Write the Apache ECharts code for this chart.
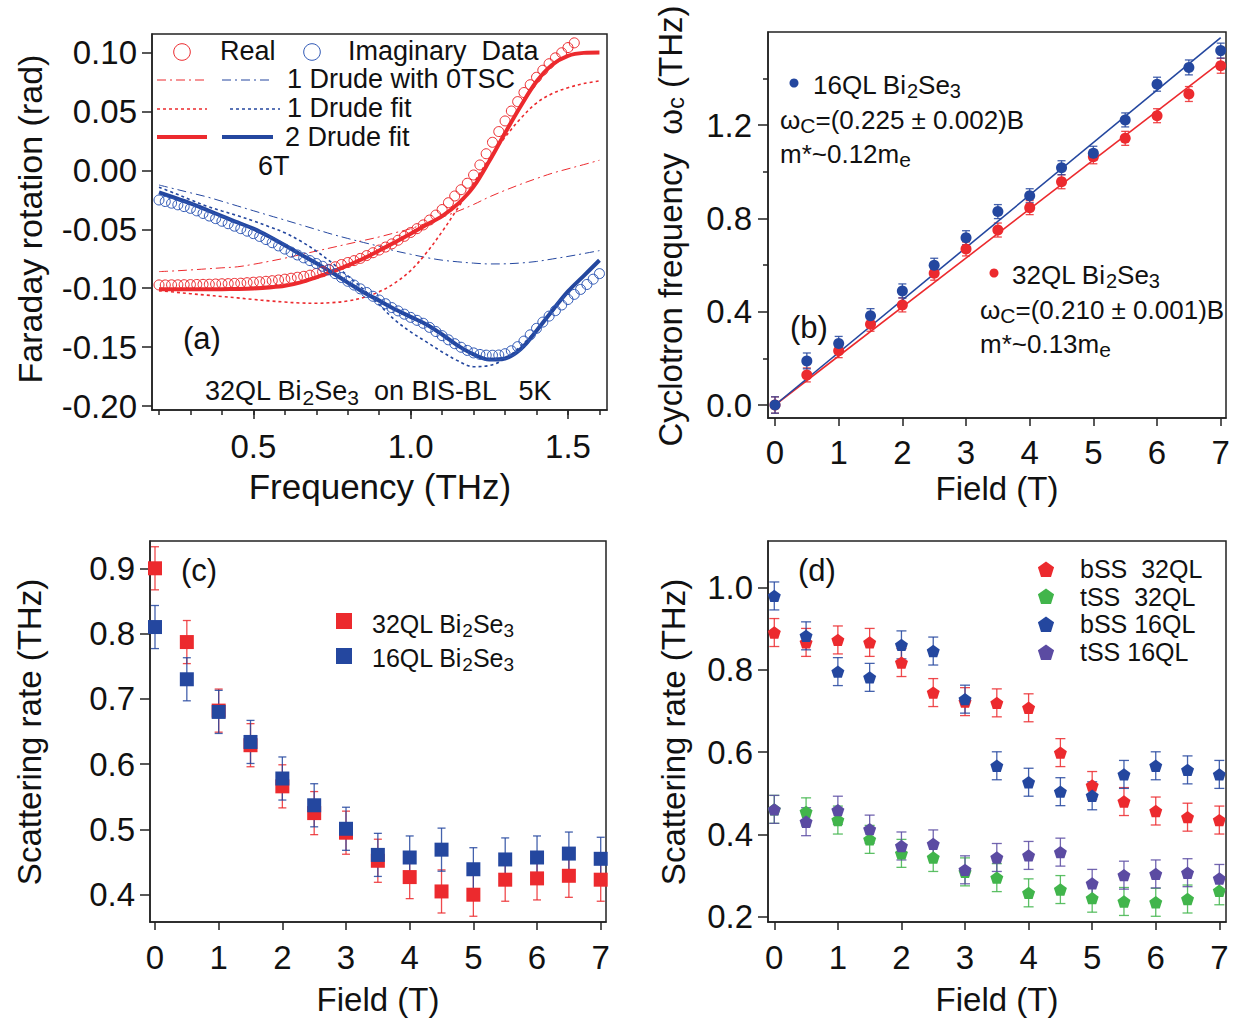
<!DOCTYPE html>
<html><head><meta charset="utf-8">
<script src="https://cdn.jsdelivr.net/npm/echarts/dist/echarts.min.js"></script>
<style>html,body{margin:0;padding:0;background:#fff}#c{width:1236px;height:1019px}</style>
</head><body><div id="c"></div>
<script>
// ---------- Panel (a): Faraday rotation vs frequency ----------
const freq = [0.20,0.22,0.24,0.26,0.28,0.30,0.32,0.34,0.36,0.38,0.40,0.42,0.44,0.46,0.48,0.50,0.52,0.54,0.56,0.58,
  0.60,0.62,0.64,0.66,0.68,0.70,0.72,0.74,0.76,0.78,0.80,0.82,0.84,0.86,0.88,0.90,0.92,0.94,0.96,0.98,
  1.00,1.02,1.04,1.06,1.08,1.10,1.12,1.14,1.16,1.18,1.20,1.22,1.24,1.26,1.28,1.30,1.32,1.34,1.36,1.38,
  1.40,1.42,1.44,1.46,1.48,1.50,1.52,1.54,1.56,1.58,1.60];
const rotReal = [-0.0972,-0.0972,-0.0971,-0.0971,-0.0970,-0.0969,-0.0968,-0.0967,-0.0966,-0.0964,
  -0.0962,-0.0961,-0.0959,-0.0957,-0.0953,-0.0949,-0.0945,-0.0941,-0.0936,-0.0930,
  -0.0923,-0.0915,-0.0907,-0.0899,-0.0889,-0.0875,-0.0860,-0.0840,-0.0818,-0.0799,
  -0.0782,-0.0766,-0.0747,-0.0723,-0.0699,-0.0676,-0.0651,-0.0624,-0.0593,-0.0560,
  -0.0527,-0.0495,-0.0463,-0.0422,-0.0380,-0.0333,-0.0275,-0.0218,-0.0165,-0.0110,
  -0.0040,0.0045,0.0140,0.0237,0.0328,0.0418,0.0502,0.0582,0.0659,0.0725,
  0.0788,0.0848,0.0903,0.0953,0.0996,0.1040,0.1080];
const rotImag = [-0.0252,-0.0265,-0.0279,-0.0293,-0.0308,-0.0323,-0.0344,-0.0366,-0.0388,-0.0410,
  -0.0432,-0.0453,-0.0474,-0.0495,-0.0516,-0.0537,-0.0561,-0.0587,-0.0614,-0.0641,
  -0.0668,-0.0694,-0.0718,-0.0742,-0.0766,-0.0790,-0.0814,-0.0844,-0.0876,-0.0909,
  -0.0941,-0.0973,-0.1005,-0.1036,-0.1068,-0.1100,-0.1131,-0.1164,-0.1192,-0.1220,
  -0.1247,-0.1272,-0.1297,-0.1332,-0.1367,-0.1402,-0.1437,-0.1470,-0.1500,-0.1527,
  -0.1548,-0.1561,-0.1567,-0.1568,-0.1566,-0.1555,-0.1530,-0.1495,-0.1448,-0.1395,
  -0.1340,-0.1287,-0.1236,-0.1190,-0.1142,-0.1095,-0.1052,-0.1010,-0.0968,-0.0923,-0.0876];
const fitFreq = [0.20,0.25,0.30,0.35,0.40,0.45,0.50,0.55,0.60,0.65,0.70,0.75,0.80,0.85,0.90,
  0.95,1.00,1.05,1.10,1.15,1.20,1.25,1.30,1.35,1.40,1.45,1.50,1.55,1.60];
const fit2Real = [-0.1009,-0.1009,-0.1009,-0.1009,-0.1008,-0.1006,-0.1002,-0.0994,-0.0980,-0.0950,
  -0.0907,-0.0860,-0.0806,-0.0748,-0.0680,-0.0610,-0.0538,-0.0462,-0.0388,-0.0285,
  -0.0139,0.0078,0.0316,0.0545,0.0752,0.0895,0.0970,0.0995,0.0998];
const fit2Imag = [-0.0187,-0.0233,-0.0281,-0.0333,-0.0389,-0.0442,-0.0495,-0.0561,-0.0636,-0.0713,
  -0.0788,-0.0866,-0.0952,-0.1034,-0.1105,-0.1178,-0.1243,-0.1307,-0.1392,-0.1486,
  -0.1560,-0.1605,-0.1595,-0.1515,-0.1360,-0.1190,-0.1027,-0.0895,-0.0763];
const fit1Real = [-0.1020,-0.1033,-0.1046,-0.1058,-0.1070,-0.1082,-0.1095,-0.1107,-0.1117,-0.1125,
  -0.1127,-0.1122,-0.1108,-0.1078,-0.1030,-0.0955,-0.0850,-0.0700,-0.0520,-0.0320,
  -0.0110,0.0100,0.0280,0.0440,0.0570,0.0650,0.0700,0.0735,0.0757];
const fit1Imag = [-0.0144,-0.0195,-0.0250,-0.0302,-0.0345,-0.0385,-0.0430,-0.0478,-0.0530,-0.0600,
  -0.0685,-0.0785,-0.0895,-0.1010,-0.1140,-0.1270,-0.1370,-0.1455,-0.1540,-0.1615,
  -0.1665,-0.1655,-0.1598,-0.1490,-0.1355,-0.1200,-0.1030,-0.0890,-0.0770];
const fit0Real = [-0.0859,-0.0853,-0.0845,-0.0836,-0.0827,-0.0818,-0.0797,-0.0772,-0.0745,-0.0715,
  -0.0685,-0.0655,-0.0625,-0.0595,-0.0565,-0.0530,-0.0495,-0.0448,-0.0398,-0.0347,
  -0.0290,-0.0226,-0.0170,-0.0118,-0.0070,-0.0025,0.0012,0.0048,0.0085];
const fit0Imag = [-0.0125,-0.0158,-0.0191,-0.0224,-0.0263,-0.0303,-0.0343,-0.0383,-0.0422,-0.0462,
  -0.0502,-0.0542,-0.0578,-0.0612,-0.0645,-0.0683,-0.0712,-0.0740,-0.0762,-0.0776,
  -0.0787,-0.0794,-0.0793,-0.0786,-0.0773,-0.0752,-0.0730,-0.0706,-0.0681];
const freqMajorTicks = [0.5, 1.0, 1.5];
const freqMinorTicks = [0.2,0.3,0.4,0.5,0.6,0.7,0.8,0.9,1.0,1.1,1.2,1.3,1.4,1.5,1.6];
const rotTicks = [-0.20,-0.15,-0.10,-0.05,0.00,0.05,0.10];

// ---------- Panel (b): cyclotron frequency vs field ----------
const field = [0,0.5,1,1.5,2,2.5,3,3.5,4,4.5,5,5.5,6,6.5,7];
const wc16 = [0.000,0.189,0.264,0.383,0.489,0.599,0.717,0.829,0.897,1.017,1.079,1.222,1.375,1.447,1.519];
const wc32 = [0.000,0.129,0.233,0.346,0.429,0.565,0.669,0.750,0.846,0.957,1.064,1.143,1.240,1.333,1.454];
const wcErr16 = [0.035,0.034,0.03,0.03,0.03,0.03,0.03,0.03,0.03,0.03,0.03,0.03,0.03,0.032,0.032];
const wcErr32 = [0.035,0.03,0.03,0.03,0.03,0.03,0.03,0.03,0.03,0.03,0.03,0.03,0.03,0.032,0.032];
const fitField = [0, 7];
const wcFit16 = [0, 1.575];
const wcFit32 = [0, 1.470];
const fieldTicks = [0,1,2,3,4,5,6,7];
const wcMajorTicks = [0.0,0.4,0.8,1.2];
const wcMinorTicks = [0.2,0.6,1.0,1.4];

// ---------- Panel (c): scattering rate ----------
const gamma32 = [0.900,0.787,0.682,0.629,0.566,0.525,0.495,0.452,0.427,0.405,0.400,0.423,0.425,0.429,0.423];
const gamma16 = [0.810,0.730,0.680,0.634,0.578,0.537,0.501,0.461,0.457,0.469,0.439,0.454,0.457,0.463,0.455];
const gammaErr32 = [0.033,0.033,0.033,0.033,0.033,0.033,0.033,0.033,0.033,0.033,0.033,0.033,0.033,0.033,0.033];
const gammaErr16 = [0.033,0.033,0.033,0.033,0.033,0.033,0.033,0.033,0.033,0.033,0.033,0.033,0.033,0.033,0.033];
const gammaCTicks = [0.4,0.5,0.6,0.7,0.8,0.9];

// ---------- Panel (d): surface-state scattering rates ----------
const bSS32 = [0.891,0.867,0.873,0.867,0.818,0.745,0.723,0.720,0.708,0.599,0.519,0.480,0.457,0.442,0.435];
const tSS32 = [0.461,0.455,0.435,0.388,0.354,0.344,0.309,0.295,0.258,0.266,0.245,0.237,0.235,0.243,0.263];
const bSS16 = [0.980,0.883,0.796,0.782,0.861,0.846,0.729,0.567,0.527,0.504,0.494,0.546,0.567,0.557,0.546];
const tSS16 = [0.461,0.431,0.459,0.413,0.372,0.377,0.314,0.344,0.349,0.357,0.281,0.301,0.304,0.307,0.293];
const ssErr = [0.034,0.034,0.034,0.034,0.034,0.034,0.034,0.034,0.034,0.034,0.034,0.034,0.034,0.034,0.034];
const gammaDTicks = [0.2,0.4,0.6,0.8,1.0];

// ---------- styling ----------
const FONT = '"Liberation Sans", Arial, Helvetica, sans-serif';
const RED = '#ec2a2e', BLUE = '#24479f', GREEN = '#41b54b', PURPLE = '#5b4ba2';
const AXC = '#222', TXT = '#111';
const PENT = 'path://M0,-10L9.511,-3.090L5.878,8.090L-5.878,8.090L-9.511,-3.090Z';
const TICKFONT = 33;

const pairs = (xs, ys) => ys.map((v, i) => [xs[i], v]);
const triples = (xs, ys, es) => ys.map((v, i) => [xs[i], v, es[i]]);

function axis(o) {
  return {
    type: 'value', gridIndex: o.grid, min: o.min, max: o.max, position: o.pos,
    splitLine: { show: false },
    axisLine: { show: !!o.line, onZero: false, lineStyle: { color: AXC, width: 1.5 } },
    axisTick: { show: true, inside: false, length: o.len, customValues: o.ticks,
      lineStyle: { color: AXC, width: 1.5 } },
    axisLabel: o.labels ? { show: true, customValues: o.labels, formatter: o.fmt, fontSize: TICKFONT,
      fontFamily: FONT, color: TXT, margin: o.margin } : { show: false }
  };
}
const f1 = v => Number(v).toFixed(1), f2 = v => Number(v).toFixed(2), f0 = v => String(Math.round(v));

function errSeries(xi, yi, data, color, cap) {
  return {
    type: 'custom', xAxisIndex: xi, yAxisIndex: yi, data: data, silent: true, z: 2,
    encode: { x: 0, y: 1 },
    renderItem(params, api) {
      const x = api.value(0), y = api.value(1), e = api.value(2);
      const p1 = api.coord([x, y + e]), p2 = api.coord([x, y - e]);
      const st = { stroke: color, lineWidth: 1.3, opacity: 0.85 };
      return { type: 'group', children: [
        { type: 'line', shape: { x1: p1[0], y1: p1[1], x2: p2[0], y2: p2[1] }, style: st },
        { type: 'line', shape: { x1: p1[0] - cap, y1: p1[1], x2: p1[0] + cap, y2: p1[1] }, style: st },
        { type: 'line', shape: { x1: p2[0] - cap, y1: p2[1], x2: p2[0] + cap, y2: p2[1] }, style: st }
      ]};
    }
  };
}
function lineSeries(xi, yi, data, color, width, type) {
  return { type: 'line', xAxisIndex: xi, yAxisIndex: yi, data: data, symbol: 'none', smooth: 0.35,
    silent: true, z: 3, lineStyle: { color: color, width: width, type: type } };
}
function scat(xi, yi, data, color, symbol, size, z) {
  return { type: 'scatter', xAxisIndex: xi, yAxisIndex: yi, data: data, symbol: symbol,
    symbolSize: size, symbolKeepAspect: true, silent: true, z: z || 4,
    itemStyle: { color: color, opacity: 1 } };
}
function ring(xi, yi, data, color) {
  return { type: 'scatter', xAxisIndex: xi, yAxisIndex: yi, data: data, symbol: 'circle',
    symbolSize: 10, silent: true, z: 4,
    itemStyle: { color: 'rgba(255,255,255,0)', borderColor: color, borderWidth: 1, opacity: 1 } };
}

// rich-text helper: n = main size, s = subscript size, off = downward shift of subscript
const RICH = (n, s, off) => ({
  n: { fontSize: n, fontFamily: FONT, color: TXT, lineHeight: n },
  s: { fontSize: s, fontFamily: FONT, color: TXT, lineHeight: s, padding: [2 * off, 0, 0, 0] }
});
function text(x, y, str, size, extra) {
  extra = extra || {};
  return { type: 'text', x: x, y: y, rotation: extra.rot || 0, z: 10, silent: true,
    style: { text: str, fill: TXT, fontSize: size, fontFamily: FONT,
      align: extra.align || 'left', textAlign: extra.align || 'left',
      verticalAlign: 'middle', textVerticalAlign: 'middle',
      rich: extra.rich } };
}
function gline(x1, x2, y, color, w, dash) {
  return { type: 'line', z: 10, silent: true, shape: { x1: x1, y1: y, x2: x2, y2: y },
    style: { stroke: color, lineWidth: w, lineDash: dash || null } };
}
function pent(cx, cy, r, color) {
  const pts = [];
  for (let k = 0; k < 5; k++) { const a = -Math.PI / 2 + k * 2 * Math.PI / 5; pts.push([cx + r * Math.cos(a), cy + r * Math.sin(a)]); }
  return { type: 'polygon', z: 10, silent: true, shape: { points: pts }, style: { fill: color } };
}

const DASHDOT = [9, 4, 2, 4], DOT = [3, 3];

const option = {
  animation: false,
  backgroundColor: '#fff',
  grid: [
    { left: 152, top: 34, width: 455, height: 376, show: true, borderColor: AXC, borderWidth: 1.5, backgroundColor: 'transparent' },
    { left: 768, top: 32, width: 458, height: 386, show: true, borderColor: AXC, borderWidth: 1.5, backgroundColor: 'transparent' },
    { left: 150, top: 541, width: 456, height: 381, show: true, borderColor: AXC, borderWidth: 1.5, backgroundColor: 'transparent' },
    { left: 768, top: 541, width: 458, height: 381, show: true, borderColor: AXC, borderWidth: 1.5, backgroundColor: 'transparent' }
  ],
  xAxis: [
    axis({ grid: 0, min: 0.1778, max: 1.624, pos: 'bottom', line: true, len: 9, ticks: freqMajorTicks, labels: freqMajorTicks, fmt: f1, margin: 20 }),
    axis({ grid: 0, min: 0.1778, max: 1.624, pos: 'bottom', line: false, len: 5, ticks: freqMinorTicks }),
    axis({ grid: 1, min: -0.110, max: 7.083, pos: 'bottom', line: true, len: 8, ticks: fieldTicks, labels: fieldTicks, fmt: f0, margin: 18 }),
    axis({ grid: 2, min: -0.0785, max: 7.083, pos: 'bottom', line: true, len: 8, ticks: fieldTicks, labels: fieldTicks, fmt: f0, margin: 19 }),
    axis({ grid: 3, min: -0.099, max: 7.105, pos: 'bottom', line: true, len: 8, ticks: fieldTicks, labels: fieldTicks, fmt: f0, margin: 19 })
  ],
  yAxis: [
    axis({ grid: 0, min: -0.2032, max: 0.1155, pos: 'left', line: true, len: 10, ticks: rotTicks, labels: rotTicks, fmt: f2, margin: 15 }),
    axis({ grid: 1, min: -0.0557, max: 1.5988, pos: 'left', line: true, len: 10, ticks: wcMajorTicks, labels: wcMajorTicks, fmt: f1, margin: 16 }),
    axis({ grid: 1, min: -0.0557, max: 1.5988, pos: 'left', line: false, len: 5, ticks: wcMinorTicks }),
    axis({ grid: 2, min: 0.3582, max: 0.9418, pos: 'left', line: true, len: 10, ticks: gammaCTicks, labels: gammaCTicks, fmt: f1, margin: 15 }),
    axis({ grid: 3, min: 0.1871, max: 1.1136, pos: 'left', line: true, len: 10, ticks: gammaDTicks, labels: gammaDTicks, fmt: f1, margin: 15 })
  ],
  series: [
    // (a)
    lineSeries(0, 0, pairs(fitFreq, fit0Real), RED, 1, DASHDOT),
    lineSeries(0, 0, pairs(fitFreq, fit0Imag), BLUE, 1, DASHDOT),
    lineSeries(0, 0, pairs(fitFreq, fit1Real), RED, 1.6, DOT),
    lineSeries(0, 0, pairs(fitFreq, fit1Imag), BLUE, 1.6, DOT),
    lineSeries(0, 0, pairs(fitFreq, fit2Real), RED, 4, 'solid'),
    lineSeries(0, 0, pairs(fitFreq, fit2Imag), BLUE, 4, 'solid'),
    ring(0, 0, pairs(freq, rotReal), RED),
    ring(0, 0, pairs(freq, rotImag), '#2f58b5'),
    // (b)
    errSeries(2, 1, triples(field, wc32, wcErr32), RED, 4),
    errSeries(2, 1, triples(field, wc16, wcErr16), BLUE, 4),
    lineSeries(2, 1, pairs(fitField, wcFit32), RED, 1.6, 'solid'),
    lineSeries(2, 1, pairs(fitField, wcFit16), BLUE, 1.6, 'solid'),
    scat(2, 1, pairs(field, wc32), RED, 'circle', 11),
    scat(2, 1, pairs(field, wc16), BLUE, 'circle', 11),
    // (c)
    errSeries(3, 3, triples(field, gamma32, gammaErr32), RED, 4),
    errSeries(3, 3, triples(field, gamma16, gammaErr16), BLUE, 4),
    scat(3, 3, pairs(field, gamma32), RED, 'rect', 14),
    scat(3, 3, pairs(field, gamma16), BLUE, 'rect', 14),
    // (d)
    errSeries(4, 4, triples(field, bSS32, ssErr), RED, 5),
    errSeries(4, 4, triples(field, tSS32, ssErr), GREEN, 5),
    errSeries(4, 4, triples(field, bSS16, ssErr), BLUE, 5),
    errSeries(4, 4, triples(field, tSS16, ssErr), PURPLE, 5),
    scat(4, 4, pairs(field, bSS32), RED, PENT, 13),
    scat(4, 4, pairs(field, tSS32), GREEN, PENT, 13),
    scat(4, 4, pairs(field, bSS16), BLUE, PENT, 13),
    scat(4, 4, pairs(field, tSS16), PURPLE, PENT, 13)
  ],
  graphic: [
    // axis titles
    text(380, 486, 'Frequency (THz)', 35, { align: 'center' }),
    text(30, 219, 'Faraday rotation (rad)', 34, { align: 'center', rot: Math.PI / 2 }),
    text(997, 488, 'Field (T)', 33, { align: 'center' }),
    text(670, 226, '{n|Cyclotron frequency  ω}{s|c}{n| (THz)}', 33, { align: 'center', rot: Math.PI / 2, rich: RICH(33, 24, 5) }),
    text(378, 999, 'Field (T)', 33, { align: 'center' }),
    text(29, 732, 'Scattering rate (THz)', 33, { align: 'center', rot: Math.PI / 2 }),
    text(997, 999, 'Field (T)', 33, { align: 'center' }),
    text(673, 732, 'Scattering rate (THz)', 33, { align: 'center', rot: Math.PI / 2 }),

    // (a) legend and notes
    { type: 'circle', z: 10, silent: true, shape: { cx: 182, cy: 52, r: 8.3 }, style: { fill: 'none', stroke: RED, lineWidth: 1 } },
    text(220, 51, 'Real', 27),
    { type: 'circle', z: 10, silent: true, shape: { cx: 312, cy: 52, r: 8.3 }, style: { fill: 'none', stroke: '#2f58b5', lineWidth: 1 } },
    text(348, 51, 'Imaginary  Data', 27),
    gline(157, 207, 80, RED, 1, DASHDOT),
    gline(222, 273, 80, BLUE, 1, DASHDOT),
    text(287, 79, '1 Drude with 0TSC', 27),
    gline(157, 207, 109, RED, 1.6, DOT),
    gline(230, 280, 109, BLUE, 1.6, DOT),
    text(287, 108, '1 Drude fit', 27),
    gline(157, 207, 137, RED, 4),
    gline(222, 273, 137, BLUE, 4),
    text(285, 137, '2 Drude fit', 27),
    text(258, 166, '6T', 27),
    text(183, 338, '(a)', 31),
    text(205, 391, '{n|32QL Bi}{s|2}{n|Se}{s|3}{n|  on BIS-BL   5K}', 27, { rich: RICH(27, 21, 6) }),

    // (b) notes
    { type: 'circle', z: 10, silent: true, shape: { cx: 794, cy: 83, r: 4.5 }, style: { fill: BLUE } },
    text(813, 85, '{n|16QL Bi}{s|2}{n|Se}{s|3}', 26, { rich: RICH(26, 20, 6) }),
    text(780, 120, '{n|ω}{s|C}{n|=(0.225 ± 0.002)B}', 26, { rich: RICH(26, 21, 5) }),
    text(780, 154, '{n|m*~0.12m}{s|e}', 26, { rich: RICH(26, 21, 5) }),
    text(790, 327, '(b)', 31),
    { type: 'circle', z: 10, silent: true, shape: { cx: 994, cy: 273, r: 4.5 }, style: { fill: RED } },
    text(1012, 275, '{n|32QL Bi}{s|2}{n|Se}{s|3}', 26, { rich: RICH(26, 20, 6) }),
    text(980, 310, '{n|ω}{s|C}{n|=(0.210 ± 0.001)B}', 26, { rich: RICH(26, 21, 5) }),
    text(980, 344, '{n|m*~0.13m}{s|e}', 26, { rich: RICH(26, 21, 5) }),

    // (c) notes
    text(181, 570, '(c)', 31),
    { type: 'rect', z: 10, silent: true, shape: { x: 336, y: 613, width: 16, height: 16 }, style: { fill: RED } },
    text(372, 624, '{n|32QL Bi}{s|2}{n|Se}{s|3}', 25, { rich: RICH(25, 19, 6) }),
    { type: 'rect', z: 10, silent: true, shape: { x: 336, y: 648, width: 16, height: 16 }, style: { fill: BLUE } },
    text(372, 658, '{n|16QL Bi}{s|2}{n|Se}{s|3}', 25, { rich: RICH(25, 19, 6) }),

    // (d) notes
    text(798, 570, '(d)', 31),
    pent(1046, 570, 8.5, RED), text(1080, 569, 'bSS  32QL', 25),
    pent(1046, 597, 8.5, GREEN), text(1080, 597, 'tSS  32QL', 25),
    pent(1046, 625, 8.5, BLUE), text(1080, 624, 'bSS 16QL', 25),
    pent(1046, 653, 8.5, PURPLE), text(1080, 652, 'tSS 16QL', 25)
  ]
};

const chart = echarts.init(document.getElementById('c'), null, { renderer: 'svg', width: 1236, height: 1019 });
chart.setOption(option);
</script></body></html>
